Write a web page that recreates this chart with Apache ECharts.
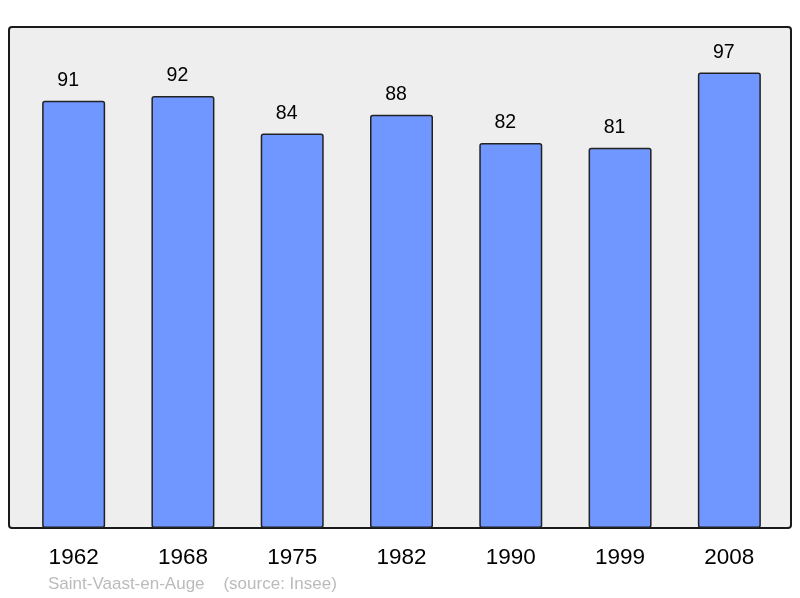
<!DOCTYPE html>
<html>
<head>
<meta charset="utf-8">
<script src="https://cdn.jsdelivr.net/npm/echarts@6/dist/echarts.min.js"></script>
<style>html,body{margin:0;padding:0;background:#fff}#c{width:800px;height:598px}</style>
</head>
<body>
<div id="c"></div>
<script>
const years = ['1962', '1968', '1975', '1982', '1990', '1999', '2008'];
const population = [91, 92, 84, 88, 82, 81, 97];
const footerText = 'Saint-Vaast-en-Auge    (source: Insee)';

const chart = echarts.init(document.getElementById('c'), null, {renderer: 'canvas'});
chart.setOption({
  backgroundColor: '#ffffff',
  animation: false,
  graphic: [
    {
      type: 'rect', z: -10,
      shape: {x: 9, y: 27, width: 782, height: 501, r: 3},
      style: {fill: '#eeeeee', stroke: '#1a1a1a', lineWidth: 2}
    },
    {
      type: 'text', left: 48, top: 576,
      style: {text: footerText, fill: '#bbbbbb', font: '17px "Liberation Sans", Arial, sans-serif'}
    }
  ],
  grid: {left: 19, right: 16, top: 27, bottom: 70, containLabel: false},
  xAxis: {
    type: 'category',
    data: years,
    axisLine: {show: false},
    axisTick: {show: false},
    axisLabel: {color: '#000', fontSize: 22.5, fontFamily: '"Liberation Sans", Arial, sans-serif', margin: 18}
  },
  yAxis: {
    type: 'value', min: 0, max: 106.7,
    show: false,
    splitLine: {show: false}
  },
  series: [{
    type: 'bar',
    data: population,
    barWidth: 63,
    itemStyle: {color: '#7096ff', borderColor: '#222', borderWidth: 1.5, borderRadius: 2},
    label: {
      show: true, position: 'top', distance: 10, offset: [-5.5, 0],
      color: '#000', fontSize: 19.5, fontFamily: '"Liberation Sans", Arial, sans-serif'
    }
  }]
});
</script>
</body>
</html>
